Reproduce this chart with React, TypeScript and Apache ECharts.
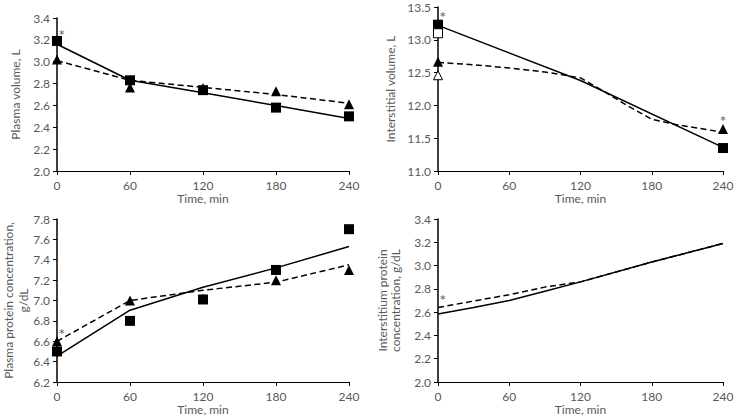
import React, { useEffect, useRef } from "react";
import * as echarts from "echarts";

// Panel 1: Plasma volume
const pvSquares = [[0, 3.19], [60, 2.83], [120, 2.74], [180, 2.58], [240, 2.50]];
const pvTriangles = [[0, 3.02], [60, 2.765], [120, 2.76], [180, 2.73], [240, 2.61]];
const pvSolid = [[0, 3.16], [60, 2.83], [120, 2.715], [180, 2.60], [240, 2.48]];
const pvDashed = [[0, 3.01], [60, 2.83], [120, 2.765], [180, 2.70], [240, 2.62]];
const pvStars = [[4, 3.25]];

// Panel 2: Interstitial volume
const ivSquares = [[0, 13.23], [240, 11.35]];
const ivOpenSquares = [[0, 13.10]];
const ivTriangles = [[0, 12.665], [240, 11.64]];
const ivOpenTriangles = [[0, 12.46]];
const ivSolid = [[0, 13.22], [120, 12.38], [240, 11.36]];
const ivDashed = [[0, 12.655], [30, 12.62], [60, 12.57], [90, 12.51], [120, 12.42], [140, 12.21], [160, 11.99], [180, 11.79], [200, 11.71], [240, 11.59]];
const ivStars = [[4, 13.35], [240, 11.77]];

// Panel 3: Plasma protein concentration
const ppSquares = [[0, 6.50], [60, 6.80], [120, 7.01], [180, 7.30], [240, 7.70]];
const ppTriangles = [[0, 6.60], [60, 7.00], [120, 7.02], [180, 7.20], [240, 7.30]];
const ppSolid = [[0, 6.455], [60, 6.905], [120, 7.13], [180, 7.32], [240, 7.53]];
const ppDashed = [[0, 6.60], [60, 7.00], [120, 7.10], [180, 7.18], [240, 7.35]];
const ppStars = [[4, 6.68]];

// Panel 4: Interstitium protein concentration
const ipSolid = [[0, 2.585], [30, 2.64], [60, 2.70], [90, 2.78], [120, 2.86], [180, 3.03], [240, 3.19]];
const ipDashed = [[0, 2.64], [30, 2.695], [60, 2.75], [90, 2.815], [120, 2.86], [180, 3.03], [240, 3.19]];
const ipStars = [[4, 2.71]];

const xTicks = { min: 0, max: 240, interval: 60 };
const yAxes = [
  { min: 2.0, max: 3.4, interval: 0.2, name: "Plasma volume, L" },
  { min: 11.0, max: 13.5, interval: 0.5, name: "Interstitial volume, L" },
  { min: 6.2, max: 7.8, interval: 0.2, name: "Plasma protein concentration,\ng/dL" },
  { min: 2.0, max: 3.4, interval: 0.2, name: "Interstitium protein\nconcentration, g/dL" },
];

const FONT = "Lato";
const GRAY = "#595959";

export default function App() {
  const ref = useRef<HTMLDivElement>(null);
  useEffect(() => {
    const chart = echarts.init(ref.current!, null, { renderer: "svg" });
    const grids = [
      { left: 57, top: 18, width: 292, height: 153 },
      { left: 438, top: 7, width: 285, height: 164 },
      { left: 57, top: 219, width: 292, height: 163 },
      { left: 438, top: 219, width: 285, height: 163 },
    ].map((g) => ({ ...g, containLabel: false, outerBoundsMode: "none" }));
    const xAxis = grids.map((_, i) => ({
      type: "value",
      gridIndex: i,
      ...xTicks,
      name: "Time, min",
      nameLocation: "middle",
      nameGap: 21,
      nameMoveOverlap: false,
      nameTextStyle: { color: GRAY, fontFamily: FONT, fontSize: 12, lineHeight: 13, fontWeight: "normal" },
      axisLine: { show: true, onZero: false, lineStyle: { color: "#000", width: 1 } },
      axisTick: { show: true, length: 4, inside: false, lineStyle: { color: "#000" } },
      axisLabel: { color: GRAY, fontFamily: FONT, fontSize: 12, lineHeight: 12, margin: 8 },
      splitLine: { show: false },
    }));
    const nameGaps = [35.5, 41.5, 26, 36.5];
    const lineHeights = [13, 13, 15, 13];
    const yAxis = yAxes.map((a, i) => ({
      type: "value",
      gridIndex: i,
      min: a.min,
      max: a.max,
      interval: a.interval,
      name: a.name,
      nameLocation: "middle",
      nameRotate: 90,
      nameGap: nameGaps[i],
      nameMoveOverlap: false,
      nameTextStyle: { color: GRAY, fontFamily: FONT, fontSize: 12, lineHeight: lineHeights[i], fontWeight: "normal" },
      axisLine: { show: true, onZero: false, lineStyle: { color: "#000", width: 1.5 } },
      axisTick: { show: true, length: 4, lineStyle: { color: "#000" } },
      axisLabel: {
        color: GRAY,
        fontFamily: FONT,
        fontSize: 12,
        margin: 7,
        formatter: (v: number) => v.toFixed(1),
      },
      splitLine: { show: false },
    }));

    const line = (data: number[][], idx: number, dashed: boolean) => ({
      type: "line",
      xAxisIndex: idx,
      yAxisIndex: idx,
      data,
      showSymbol: false,
      symbol: "none",
      lineStyle: { color: "#000", width: 1.5, type: dashed ? [6, 3.5] : "solid" },
      z: 2,
    });
    const marks = (data: number[][], idx: number, symbol: string, filled: boolean, size: number) => ({
      type: "scatter",
      xAxisIndex: idx,
      yAxisIndex: idx,
      data,
      symbol,
      symbolSize: size,
      itemStyle: filled
        ? { color: "#000", borderWidth: 0, opacity: 1 }
        : { color: "#fff", borderColor: "#000", borderWidth: 1, opacity: 1 },
      z: symbol === "rect" ? 4 : 3,
    });
    const stars = (data: number[][], idx: number) => ({
      type: "scatter",
      xAxisIndex: idx,
      yAxisIndex: idx,
      data,
      symbolSize: 0,
      label: {
        show: true,
        position: "inside",
        formatter: "*",
        color: "#222",
        fontFamily: "DejaVu Sans",
        fontSize: 11,
      },
      z: 5,
    });

    chart.setOption({
      animation: false,
      grid: grids,
      xAxis,
      yAxis,
      series: [
        line(pvSolid, 0, false),
        line(pvDashed, 0, true),
        marks(pvTriangles, 0, "triangle", true, 10),
        marks(pvSquares, 0, "rect", true, 10),
        stars(pvStars, 0),

        line(ivSolid, 1, false),
        line(ivDashed, 1, true),
        marks(ivTriangles, 1, "triangle", true, 10),
        marks(ivOpenTriangles, 1, "triangle", false, 9),
        marks(ivSquares, 1, "rect", true, 10),
        marks(ivOpenSquares, 1, "rect", false, 9),
        stars(ivStars, 1),

        line(ppSolid, 2, false),
        line(ppDashed, 2, true),
        marks(ppTriangles, 2, "triangle", true, 10),
        marks(ppSquares, 2, "rect", true, 10),
        stars(ppStars, 2),

        line(ipSolid, 3, false),
        line(ipDashed, 3, true),
        stars(ipStars, 3),
      ],
    });
    return () => chart.dispose();
  }, []);
  return <div ref={ref} style={{ width: 735, height: 418, position: "absolute", left: 0, top: 0, background: "#fff" }} />;
}
